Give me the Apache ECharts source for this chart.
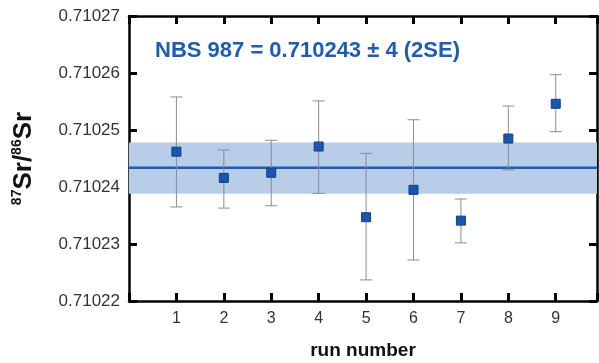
<!DOCTYPE html>
<html>
<head>
<meta charset="utf-8">
<script src="https://cdn.jsdelivr.net/npm/echarts@6/dist/echarts.min.js"></script>
<style>
html,body{margin:0;padding:0;background:#fff;}
#chart{width:599px;height:363px;}
</style>
</head>
<body>
<div id="chart"></div>
<script>
// ---- data ----
const runs = [1, 2, 3, 4, 5, 6, 7, 8, 9];
const ratio = [0.7102462, 0.7102416, 0.7102425, 0.7102471, 0.7102347, 0.7102395, 0.7102341, 0.7102485, 0.7102546];
const errHigh = [0.7102558, 0.7102465, 0.7102482, 0.7102551, 0.7102459, 0.7102518, 0.7102379, 0.7102542, 0.7102597];
const errLow = [0.7102365, 0.7102363, 0.7102367, 0.7102389, 0.7102237, 0.7102272, 0.7102302, 0.7102430, 0.7102497];
const meanValue = 0.7102434;
const bandLow = 0.7102388;
const bandHigh = 0.7102478;
const yTickLabels = ['0.71022', '0.71023', '0.71024', '0.71025', '0.71026', '0.71027'];
const xMin = 0, xMax = 9.87;
const titleText = 'NBS 987 = 0.710243 \u00B1 4 (2SE)';
const xName = 'run number';

const yBase = parseFloat(yTickLabels[0]);
const yStep = parseFloat(yTickLabels[1]) - yBase;
const sc = v => (v - yBase) / yStep;          // axis units: 1 unit = one tick step
const yUnitsMax = yTickLabels.length - 1;

const FONT = '"Liberation Sans", Arial, sans-serif';
const chart = echarts.init(document.getElementById('chart'), null, {renderer: 'canvas'});
const xFmt = v => (Number.isInteger(v) && v >= 1 && v <= 9) ? String(v) : '';

function line() { return {show: true, onZero: false, lineStyle: {color: '#000000', width: 2.5}}; }
function tick() { return {show: true, inside: true, length: 8, lineStyle: {color: '#000000', width: 3}}; }

const option = {
  animation: false,
  title: {
    text: titleText, left: 155, top: 39, padding: 0,
    textStyle: {fontSize: 22, fontWeight: 'bold', color: '#1e5cb2', fontFamily: FONT, lineHeight: 24}
  },
  grid: {left: 129, right: 2, top: 16, bottom: 62, containLabel: false, outerBoundsMode: 'none'},
  xAxis: [{
    type: 'value', min: xMin, max: xMax, interval: 1, position: 'bottom',
    axisLine: line(), axisTick: tick(),
    splitLine: {show: false},
    axisLabel: {margin: 10, fontSize: 16, color: '#333', fontFamily: FONT, formatter: xFmt},
    name: xName, nameLocation: 'middle', nameGap: 40,
    nameTextStyle: {fontSize: 19, fontWeight: 'bold', color: '#111', fontFamily: FONT}
  }, {
    type: 'value', min: xMin, max: xMax, interval: 1, position: 'top',
    axisLine: line(), axisTick: tick(),
    splitLine: {show: false},
    axisLabel: {show: false}
  }],
  yAxis: [{
    type: 'value', min: 0, max: yUnitsMax, interval: 1, position: 'left',
    axisLine: line(), axisTick: tick(),
    splitLine: {show: false},
    axisLabel: {margin: 9, fontSize: 17, color: '#333', fontFamily: FONT, formatter: v => yTickLabels[Math.round(v)] || ''},
    name: '{sup|87}{main|Sr/}{sup|86}{main|Sr}',
    nameLocation: 'middle', nameRotate: 90, nameGap: 92,
    nameTextStyle: {
      rich: {
        main: {fontSize: 26, fontWeight: 'bold', fontFamily: FONT, color: '#111', lineHeight: 30, verticalAlign: 'bottom'},
        sup: {fontSize: 14, fontWeight: 'bold', fontFamily: FONT, color: '#111', lineHeight: 30, verticalAlign: 'top', padding: [3, 0, 0, 0]}
      }
    }
  }, {
    type: 'value', min: 0, max: yUnitsMax, interval: 1, position: 'right',
    axisLine: line(), axisTick: tick(),
    splitLine: {show: false},
    axisLabel: {show: false}
  }],
  series: [{
    type: 'custom',
    z: 1,
    silent: true,
    data: [[sc(bandLow), sc(bandHigh), sc(meanValue)]],
    renderItem: function (params, api) {
      const cs = params.coordSys;
      const yl = api.coord([xMin, api.value(0)])[1];
      const yh = api.coord([xMin, api.value(1)])[1];
      const ym = api.coord([xMin, api.value(2)])[1];
      return {
        type: 'group',
        children: [
          {type: 'rect', shape: {x: cs.x, y: yh, width: cs.width, height: yl - yh}, style: {fill: '#b8cde8'}},
          {type: 'rect', shape: {x: cs.x, y: ym - 1, width: cs.width, height: 2.4}, style: {fill: '#1f5db2'}}
        ]
      };
    }
  }, {
    type: 'custom',
    z: 3,
    silent: true,
    data: runs.map((r, i) => [r, sc(errLow[i]), sc(errHigh[i])]),
    renderItem: function (params, api) {
      const x = api.value(0);
      const lo = api.coord([x, api.value(1)]);
      const hi = api.coord([x, api.value(2)]);
      const w = 6;
      const st = {stroke: '#8c8c8c', lineWidth: 1};
      return {
        type: 'group',
        children: [
          {type: 'line', shape: {x1: lo[0], y1: lo[1], x2: hi[0], y2: hi[1]}, style: st},
          {type: 'line', shape: {x1: lo[0] - w, y1: lo[1], x2: lo[0] + w, y2: lo[1]}, style: st},
          {type: 'line', shape: {x1: hi[0] - w, y1: hi[1], x2: hi[0] + w, y2: hi[1]}, style: st}
        ]
      };
    }
  }, {
    type: 'scatter',
    z: 5,
    symbol: 'rect',
    symbolSize: 9,
    itemStyle: {color: '#1757ad', borderColor: '#0e3f85', borderWidth: 1, opacity: 1},
    data: runs.map((r, i) => [r, sc(ratio[i])])
  }]
};
chart.setOption(option);
</script>
</body>
</html>
